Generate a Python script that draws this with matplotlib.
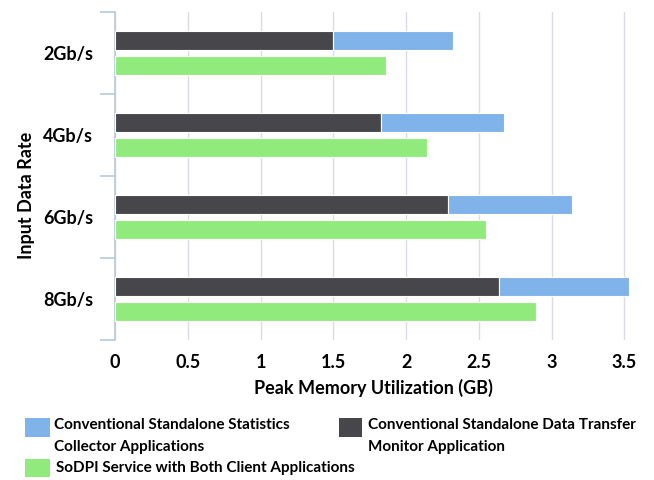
import matplotlib
matplotlib.use("Agg")
import matplotlib.pyplot as plt
from matplotlib.patches import Rectangle

plt.rcParams['font.family'] = ['Lato', 'DejaVu Sans']
plt.rcParams['font.weight'] = 'bold'

# data
rates = ["2Gb/s", "4Gb/s", "6Gb/s", "8Gb/s"]
transfer_monitor = [1.50, 1.83, 2.29, 2.64]
stats_collector = [0.82, 0.84, 0.85, 0.89]
sodpi = [1.86, 2.14, 2.55, 2.89]
xticks = [0, 0.5, 1, 1.5, 2, 2.5, 3, 3.5]
xtick_labels = ["0", "0.5", "1", "1.5", "2", "2.5", "3", "3.5"]
legend_labels = ["Conventional Standalone Statistics\nCollector Applications",
                 "Conventional Standalone Data Transfer\nMonitor Application",
                 "SoDPI Service with Both Client Applications"]

c_dark = "#47464b"
c_blue = "#7fb3e9"
c_green = "#91eb7c"

W, H = 654, 480
fig = plt.figure(figsize=(6.54, 4.8), dpi=100)
ax = fig.add_axes([0.176, 0.292, 0.79, 0.683])

pos = list(range(len(rates)))
h = 0.23
top = [p - 0.15 for p in pos]
bot = [p + 0.15 for p in pos]

ax.barh(top, transfer_monitor, height=h, color=c_dark, edgecolor="white", linewidth=0.8, zorder=3)
ax.barh(top, stats_collector, left=transfer_monitor, height=h, color=c_blue, edgecolor="white", linewidth=0.8, zorder=3)
ax.barh(bot, sodpi, height=h, color=c_green, edgecolor="white", linewidth=0.8, zorder=3)

ax.set_xlim(0, 3.55)
ax.set_ylim(3.5, -0.5)

ax.set_xticks(xticks)
ax.set_xticklabels(xtick_labels, fontsize=13, fontweight='bold')
ax.tick_params(axis='x', length=0, pad=10)
ax.grid(axis='x', color="#d9dce3", linewidth=1, zorder=0)

# category boundaries as major ticks, labels on minor ticks at centers
ax.set_yticks([-0.5, 0.5, 1.5, 2.5, 3.5])
ax.set_yticklabels([])
ax.tick_params(axis='y', which='major', length=11, color="#b8c9dc", width=1.2)
ax.set_yticks(pos, minor=True)
ax.set_yticklabels(rates, minor=True, fontsize=13, fontweight='bold')
ax.tick_params(axis='y', which='minor', length=0, pad=16)

for s in ['top', 'right', 'bottom']:
    ax.spines[s].set_visible(False)
ax.spines['left'].set_color("#b8c9dc")
ax.spines['left'].set_linewidth(1.2)

ax.set_xlabel("Peak Memory Utilization (GB)", fontsize=13, fontweight='bold', labelpad=6)
ax.set_ylabel("Input Data Rate", fontsize=13, fontweight='bold')
ax.yaxis.set_label_coords(-0.155, 0.44)

# legend drawn by hand to mimic the original layout
def legend_item(x, y, w, hgt, color, tx, ty, text):
    fig.patches.append(Rectangle((x / W, 1 - (y + hgt) / H), w / W, hgt / H,
                                 transform=fig.transFigure, facecolor=color, edgecolor='none'))
    fig.text(tx / W, 1 - ty / H, text, fontsize=11, fontweight='bold',
             va='top', ha='left', linespacing=1.75)

legend_item(25, 418, 25, 19, c_blue, 54, 418, legend_labels[0])
legend_item(339, 418, 23, 19, c_dark, 368, 418, legend_labels[1])
legend_item(25, 459, 25, 18, c_green, 56, 461, legend_labels[2])

fig.savefig("out.png", dpi=100)
